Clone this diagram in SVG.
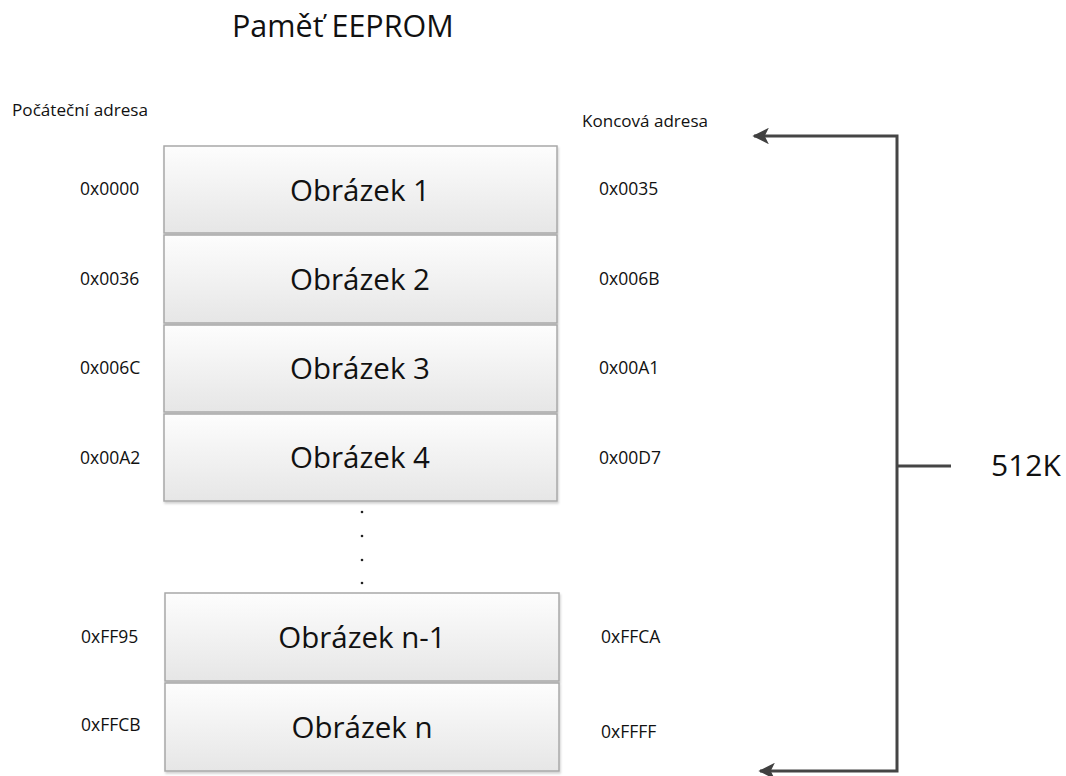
<svg xmlns="http://www.w3.org/2000/svg" width="1066" height="776" viewBox="0 0 1066 776">
<defs>
<linearGradient id="bg" x1="0" y1="0" x2="0" y2="1">
<stop offset="0" stop-color="#fdfdfd"/>
<stop offset="1" stop-color="#e6e6e6"/>
</linearGradient>
<filter id="sh" x="-5%" y="-5%" width="110%" height="115%">
<feDropShadow dx="1" dy="2" stdDeviation="1.2" flood-color="#000" flood-opacity="0.18"/>
</filter>
<marker id="ah" viewBox="0 0 10 10" refX="9" refY="5" markerWidth="5.5" markerHeight="5.5" orient="auto-start-reverse" markerUnits="strokeWidth">
<path d="M0,0 L10,5 L0,10 L2.5,5 Z" fill="#404040"/>
</marker>
</defs>
<style>
text{font-family:"Open Sans","Liberation Sans",sans-serif;fill:#111}
.box{fill:url(#bg);stroke:#a8a8a8;stroke-width:1.5;filter:url(#sh)}
.lbl{font-size:29.5px;text-anchor:middle}
.addr{font-size:17.5px}
.conn{fill:none;stroke:#454545;stroke-width:3}
</style>
<rect width="1066" height="776" fill="#fff"/>
<text x="232" y="37" font-size="30.5" id="title">Paměť EEPROM</text>
<text x="12" y="116" font-size="16.5" textLength="136" lengthAdjust="spacingAndGlyphs">Počáteční adresa</text>
<text x="582" y="127" font-size="15.5" textLength="126" lengthAdjust="spacingAndGlyphs">Koncová adresa</text>

<g id="node1"><rect class="box" x="164" y="146" width="393" height="87"/><text class="lbl" x="360" y="201">Obrázek 1</text></g>
<g id="node2"><rect class="box" x="164" y="235" width="393" height="88"/><text class="lbl" x="360" y="290">Obrázek 2</text></g>
<g id="node3"><rect class="box" x="164" y="325" width="393" height="87"/><text class="lbl" x="360" y="379">Obrázek 3</text></g>
<g id="node4"><rect class="box" x="164" y="414" width="393" height="87"/><text class="lbl" x="360" y="468">Obrázek 4</text></g>
<g id="node5"><rect class="box" x="165" y="593" width="394" height="88"/><text class="lbl" x="362" y="648">Obrázek n-1</text></g>
<g id="node6"><rect class="box" x="165" y="683" width="394" height="88"/><text class="lbl" x="362" y="738">Obrázek n</text></g>

<g id="dots" fill="#222">
<circle cx="362" cy="512" r="1.3"/><circle cx="362" cy="536" r="1.3"/><circle cx="362" cy="560" r="1.3"/><circle cx="362" cy="583" r="1.3"/>
</g>

<g id="start-addresses">
<text class="addr" x="80" y="195">0x0000</text>
<text class="addr" x="80" y="285">0x0036</text>
<text class="addr" x="80" y="374">0x006C</text>
<text class="addr" x="80" y="464">0x00A2</text>
<text class="addr" x="81" y="643">0xFF95</text>
<text class="addr" x="81" y="731">0xFFCB</text>
</g>
<g id="end-addresses">
<text class="addr" x="599" y="195">0x0035</text>
<text class="addr" x="599" y="285">0x006B</text>
<text class="addr" x="599" y="374">0x00A1</text>
<text class="addr" x="599" y="464">0x00D7</text>
<text class="addr" x="601" y="643">0xFFCA</text>
<text class="addr" x="601" y="738">0xFFFF</text>
</g>

<g id="connectors">
<path class="conn" d="M897,466 L897,136 L754,136" marker-end="url(#ah)"/>
<path class="conn" d="M897,466 L897,771 L760,771" marker-end="url(#ah)"/>
<path class="conn" d="M897,466 L951,466" stroke-width="2"/>
</g>
<text x="991" y="476" font-size="30" id="size-label">512K</text>
</svg>
